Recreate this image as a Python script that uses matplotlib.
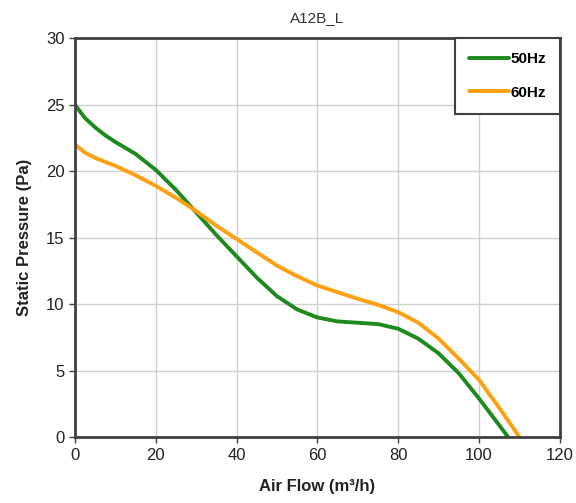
import matplotlib
matplotlib.use("Agg")
import matplotlib.pyplot as plt

plt.rcParams["font.family"] = ["Liberation Sans", "DejaVu Sans"]

title = "A12B_L"
x_label = "Air Flow (m³/h)"
y_label = "Static Pressure (Pa)"

flow_50 = [0, 2.5, 5, 7.5, 10, 15, 20, 25, 30, 35, 40, 45, 50, 55, 60, 65, 70, 75, 80, 85, 90, 95, 100, 104, 107.2]
pres_50 = [25.0, 24.0, 23.3, 22.7, 22.2, 21.3, 20.1, 18.6, 16.9, 15.2, 13.6, 12.0, 10.6, 9.6, 9.0, 8.7, 8.6, 8.5, 8.15, 7.4, 6.3, 4.8, 2.9, 1.3, 0.0]

flow_60 = [0, 2.5, 5, 7.5, 10, 15, 20, 25, 30, 35, 40, 45, 50, 55, 60, 65, 70, 75, 80, 85, 90, 95, 100, 105, 110]
pres_60 = [22.0, 21.4, 21.0, 20.7, 20.4, 19.7, 18.9, 18.0, 17.0, 15.9, 14.9, 13.9, 12.9, 12.1, 11.4, 10.9, 10.4, 9.95, 9.4, 8.6, 7.4, 5.9, 4.3, 2.2, 0.0]

series_names = ["50Hz", "60Hz"]
colors = ["#1e8a1e", "#ffa010"]

fig = plt.figure(figsize=(5.76, 5.03), dpi=100)
ax = fig.add_axes([0.130, 0.131, 0.842, 0.793])

ax.plot(flow_50, pres_50, color=colors[0], lw=2.8, label=series_names[0], solid_capstyle="round", solid_joinstyle="round")
ax.plot(flow_60, pres_60, color=colors[1], lw=2.8, label=series_names[1], solid_capstyle="round", solid_joinstyle="round")

ax.set_xlim(0, 120)
ax.set_ylim(0, 30)
ax.set_xticks(range(0, 121, 20))
ax.set_yticks(range(0, 31, 5))
ax.grid(True, color="#d0d0d0", lw=1)
ax.set_axisbelow(True)
for s in ax.spines.values():
    s.set_color("#404040")
    s.set_linewidth(2)
ax.tick_params(direction="out", length=4, width=1, colors="#404040", labelsize=12, labelcolor="#222222")

ax.set_title(title, fontsize=11, color="#333333", pad=12)
ax.set_xlabel(x_label, fontsize=12, fontweight="bold", color="#222222", labelpad=12)
ax.set_ylabel(y_label, fontsize=12, fontweight="bold", color="#222222", labelpad=10)

leg = ax.legend(loc="upper right", bbox_to_anchor=(1.0, 1.0), fancybox=False, framealpha=1,
                edgecolor="#404040", borderpad=0.9, labelspacing=1.3, handlelength=2.6,
                handletextpad=0.1, borderaxespad=0, prop={"weight": "bold", "size": 11})
leg.get_frame().set_linewidth(1.5)

fig.savefig("out.png", dpi=100)
